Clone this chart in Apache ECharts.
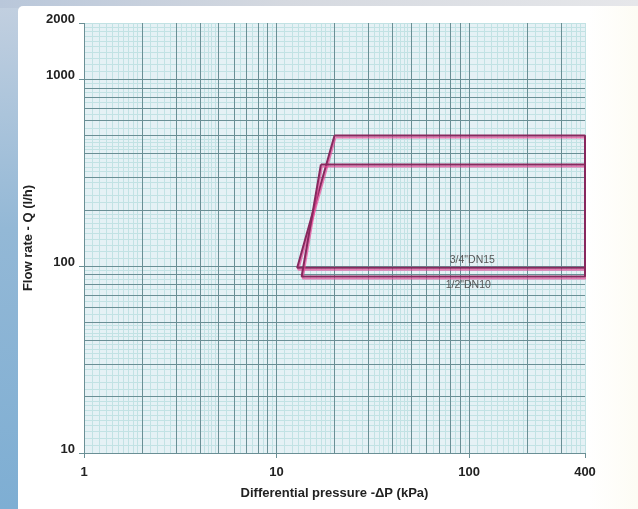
<!DOCTYPE html>
<html><head><meta charset="utf-8">
<script src="https://cdn.jsdelivr.net/npm/echarts@6/dist/echarts.min.js"></script>
<style>
html,body{margin:0;padding:0;width:638px;height:509px;overflow:hidden;}
body{background:linear-gradient(180deg,#c3d0e0 0%,#93b8d6 45%,#7eaed3 100%);}
#top{position:absolute;left:0;top:0;right:0;height:8px;background:linear-gradient(90deg,#b9c7da,#d5d9e0 45%,#e6e7ea);}
#bg{position:absolute;left:18px;top:6px;right:0;bottom:0;background:linear-gradient(90deg,#ffffff 0%,#ffffff 92%,#fdfcf4 100%);border-top-left-radius:5px;}
#chart{position:absolute;left:0;top:0;width:638px;height:509px;}
</style></head>
<body>
<div id="top"></div><div id="bg"></div>
<div id="chart"></div>
<script>
// ---- data ----
const xTicks = [1, 10, 100, 400];
const yTicks = [10, 100, 1000, 2000];
const dn15X = [20, 400, 400, 12.8, 20];
const dn15Y = [500, 500, 98, 98, 500];
const dn10X = [17, 400, 400, 13.5, 17];
const dn10Y = [350, 350, 88, 88, 350];
const seriesNames = ['3/4"DN15', '1/2"DN10'];
const dn15LabelAt = [104, 108];
const dn10LabelAt = [99, 79];

// ---- log graph-paper rulings ----
const darkMult = [1, 2, 3, 4, 5, 6, 7, 8, 9];
const lightMult = [1.1, 1.2, 1.3, 1.4, 1.5, 1.6, 1.7, 1.8, 1.9, 2.2, 2.4, 2.6, 2.8, 3.2, 3.4, 3.6, 3.8, 4.2, 4.4, 4.6, 4.8, 5.5, 6.5, 7.5, 8.5, 9.5];
function rulings(decades, mults, max) {
  const out = [];
  decades.forEach(d => mults.forEach(m => { const v = +(d * m).toPrecision(6); if (v <= max) out.push(v); }));
  return out;
}
const darkX = rulings([1, 10, 100], darkMult, 399);
const darkY = rulings([10, 100], darkMult, 1000).concat([1000]);
const lightX = rulings([1, 10, 100], lightMult, 399);
const lightY = rulings([10, 100, 1000], lightMult, 1999);

const DARK = '#6a8f95';
const LIGHT = '#c2e2e4';
const LINE = '#87285e';
const FONT = "'Liberation Sans', Arial, Helvetica, sans-serif";

const chart = echarts.init(document.getElementById('chart'), null, {renderer: 'canvas'});

function pairs(xs, ys) { return xs.map((x, i) => [x, ys[i]]); }

const option = {
  backgroundColor: 'transparent',
  animation: false,
  textStyle: {fontFamily: FONT},
  grid: {left: 84, right: 53, top: 23, bottom: 56, show: true, backgroundColor: '#e5f1f5', borderWidth: 0},
  xAxis: {
    type: 'log', logBase: 10, min: 1, max: 400,
    name: 'Differential pressure -ΔP (kPa)', nameLocation: 'middle', nameGap: 34,
    nameTextStyle: {fontFamily: FONT, fontSize: 13, fontWeight: 'bold', color: '#222'},
    axisLine: {show: false},
    axisTick: {show: true, length: 5, lineStyle: {color: DARK}},
    axisLabel: {fontFamily: FONT, fontSize: 13, fontWeight: 'bold', color: '#222', margin: 13,
      formatter: v => String(Math.round(v))},
    splitLine: {show: true, lineStyle: {color: LIGHT, width: 1}}
  },
  yAxis: {
    type: 'log', logBase: 10, min: 10, max: 2000,
    name: 'Flow rate - Q (l/h)', nameLocation: 'middle', nameGap: 48,
    nameTextStyle: {fontFamily: FONT, fontSize: 13, fontWeight: 'bold', color: '#222'},
    axisLine: {show: false},
    axisTick: {show: true, length: 5, lineStyle: {color: DARK}},
    axisLabel: {fontFamily: FONT, fontSize: 13, fontWeight: 'bold', color: '#222', margin: 9,
      verticalAlign: 'bottom', lineHeight: 8, formatter: v => String(Math.round(v))},
    splitLine: {show: true, lineStyle: {color: LIGHT, width: 1}}
  },
  series: [
    {
      type: 'line', name: 'light rulings', data: [], z: 1, silent: true,
      markLine: {
        silent: true, symbol: ['none', 'none'], label: {show: false}, animation: false,
        lineStyle: {color: LIGHT, width: 1, type: 'solid'},
        emphasis: {disabled: true},
        data: lightX.map(v => ({xAxis: v})).concat(lightY.map(v => ({yAxis: v})))
      }
    },
    {
      type: 'line', name: 'dark rulings', data: [], z: 2, silent: true,
      markLine: {
        silent: true, symbol: ['none', 'none'], label: {show: false}, animation: false,
        lineStyle: {color: DARK, width: 1, type: 'solid'},
        emphasis: {disabled: true},
        data: darkX.map(v => ({xAxis: v})).concat(darkY.map(v => ({yAxis: v})))
      }
    },
    {
      type: 'line', name: seriesNames[0], data: pairs(dn15X, dn15Y), z: 5,
      showSymbol: false, symbol: 'none',
      lineStyle: {color: LINE, width: 2, shadowColor: 'rgba(232,70,150,0.7)', shadowOffsetX: 1, shadowOffsetY: 2, shadowBlur: 0},
      markPoint: {
        symbol: 'circle', symbolSize: 0, silent: true,
        label: {show: true, position: 'inside', formatter: seriesNames[0], fontFamily: FONT, fontSize: 10.5, color: '#555'},
        data: [{coord: dn15LabelAt}]
      }
    },
    {
      type: 'line', name: seriesNames[1], data: pairs(dn10X, dn10Y), z: 5,
      showSymbol: false, symbol: 'none',
      lineStyle: {color: LINE, width: 2, shadowColor: 'rgba(232,70,150,0.7)', shadowOffsetX: 1, shadowOffsetY: 2, shadowBlur: 0},
      markPoint: {
        symbol: 'circle', symbolSize: 0, silent: true,
        label: {show: true, position: 'inside', formatter: seriesNames[1], fontFamily: FONT, fontSize: 10.5, color: '#555'},
        data: [{coord: dn10LabelAt}]
      }
    }
  ]
};
chart.setOption(option);
</script>
</body></html>
